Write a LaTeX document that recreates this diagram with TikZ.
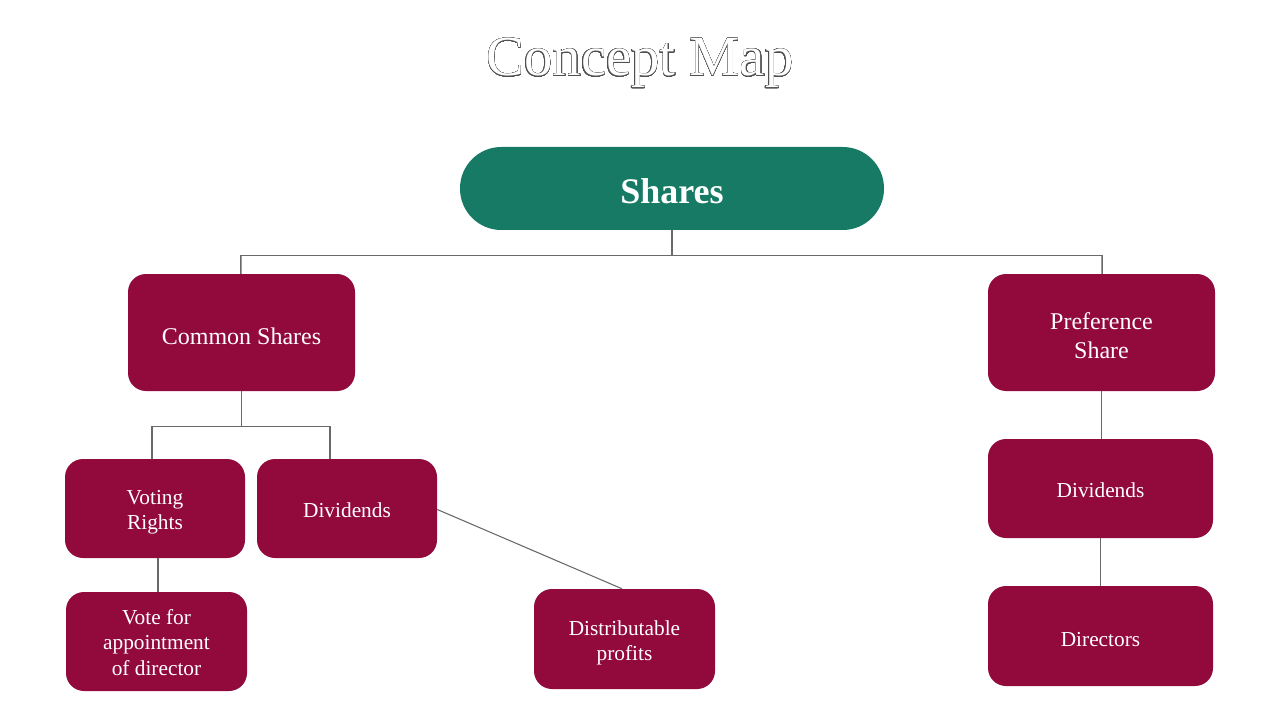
\documentclass[tikz,border=0pt]{standalone}
\usepackage{fontspec}
\setmainfont{Liberation Serif}
\usepackage{contour}
\contourlength{0.3pt}
\contournumber{32}
\definecolor{shgreen}{RGB}{23,122,101}
\definecolor{maroon}{RGB}{146,10,60}
\definecolor{linegray}{RGB}{105,105,105}
\definecolor{titlegray}{RGB}{80,80,80}
\definecolor{dropblue}{RGB}{138,160,178}
\tikzset{
  box/.style={fill=maroon, text=white, align=center, rounded corners=13.5pt, inner sep=2pt},
  bigbox/.style={box, minimum width=170.25pt, minimum height=87.75pt, font=\fontsize{18}{21.75}\selectfont},
  smallbox/.style={box, minimum width=135pt, minimum height=74.25pt, font=\fontsize{16}{19}\selectfont},
  widebox/.style={box, minimum width=168.75pt, minimum height=74.25pt, font=\fontsize{16}{19}\selectfont},
  conn/.style={draw=linegray, line width=0.8pt},
  drop/.style={draw=dropblue, line width=1pt}
}
\newcommand{\lowerby}[1]{\rule{0pt}{#1}}
\begin{document}
\begin{tikzpicture}[x=0.75pt,y=-0.75pt]
\useasboundingbox[fill=white] (0,0) rectangle (1280,720);
\node[anchor=base, inner sep=0pt] (title) at (640,76) {\fontsize{42.5}{50}\selectfont\contour{titlegray}{\textcolor{white}{Concept Map}}};
\node[fill=shgreen, text=white, minimum width=318pt, minimum height=62.25pt, rounded corners=31pt, font=\fontsize{27}{32}\selectfont\bfseries] (shares) at (672,188.5) {\lowerby{22.9pt}Shares};
\node[bigbox] (common) at (241.5,332.5) {\lowerby{18pt}Common Shares};
\node[bigbox] (pref) at (1101.5,332.5) {\lowerby{16.8pt}Preference\\Share};
\node[smallbox] (voting) at (155,508.5) {\lowerby{16.6pt}Voting\\Rights};
\node[smallbox] (divl) at (347,508.5) {\lowerby{13.9pt}Dividends};
\node[smallbox, minimum width=135.75pt] (vote) at (156.5,641.5) {\lowerby{12.4pt}Vote for\\appointment\\of director};
\node[smallbox, minimum width=135.75pt, minimum height=75pt] (dist) at (624.5,639) {\lowerby{16.9pt}Distributable\\profits};
\node[widebox] (divr) at (1100.5,488.5) {\lowerby{13.9pt}Dividends};
\node[widebox, minimum height=75pt] (dir) at (1100.5,636) {\lowerby{15.4pt}Directors};
% top connectors
\draw[conn] (shares.south) -- ++(0,25) coordinate (hub);
\draw[conn] (hub) -| ([xshift=-0.4pt]common.north);
\draw[conn] (hub) -| ([xshift=0.4pt]pref.north);
\draw[drop] ([yshift=13.5pt]common.north) -- (common.north);
\draw[drop] ([yshift=13.5pt]pref.north) -- (pref.north);
% common shares connectors
\draw[conn] (common.south) -- ++(0,35) coordinate (hub2);
\draw[conn] (hub2) -| ([xshift=-2.25pt]voting.north);
\draw[conn] (hub2) -| ([xshift=-12.75pt]divl.north);
\draw[conn] ([xshift=2.25pt]voting.south) -- ([xshift=2.25pt]voting.south |- vote.north);
\draw[conn] ([yshift=-0.75pt]divl.east) -- ([xshift=-1.9pt]dist.north);
% preference connectors
\draw[conn] (pref.south) -- (pref.south |- divr.north);
\draw[conn] (divr.south) -- (divr.south |- dir.north);
\end{tikzpicture}
\end{document}
